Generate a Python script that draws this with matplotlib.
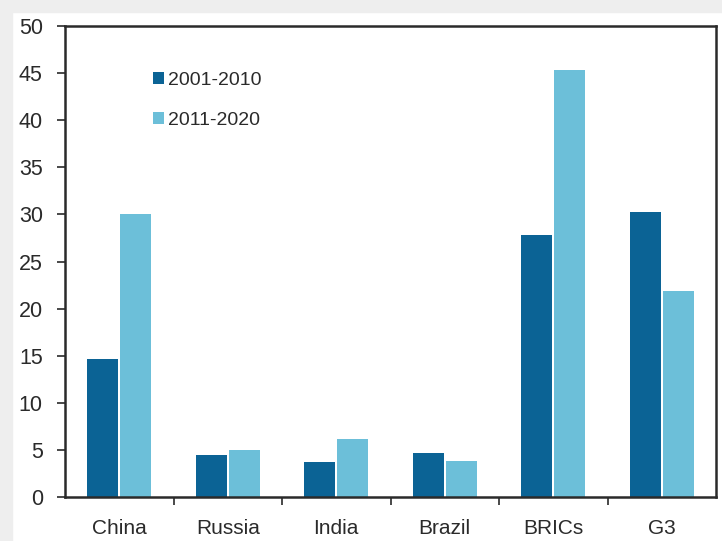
import numpy as np
import matplotlib
matplotlib.use("Agg")
from matplotlib import pyplot as plt
from matplotlib.patches import Rectangle

# Data
categories = ["China", "Russia", "India", "Brazil", "BRICs", "G3"]
decade_2001_2010 = [14.7, 4.5, 3.7, 4.7, 27.8, 30.3]
decade_2011_2020 = [30.0, 5.0, 6.2, 3.8, 45.3, 21.9]
series_labels = ["2001-2010", "2011-2020"]
y_ticks = list(range(0, 55, 5))

dark_blue = "#0b6395"
light_blue = "#6cbfd9"
text_color = "#2a2a2a"

plt.rcParams['font.family'] = ['Liberation Sans', 'DejaVu Sans']

fig = plt.figure(figsize=(7.22, 5.41), dpi=100)
fig.patch.set_facecolor("white")

# light grey frame strips on the left and top edges of the screenshot
fig.patches.append(Rectangle((0, 0), 12 / 722, 1, transform=fig.transFigure,
                             color="#eeeeee", zorder=0))
fig.patches.append(Rectangle((0, 1 - 12 / 541), 1, 12 / 541, transform=fig.transFigure,
                             color="#eeeeee", zorder=0))

ax = fig.add_axes([65 / 722, 1 - 497 / 541, (716 - 65) / 722, (497 - 26) / 541])

x = np.arange(len(categories))
width = 0.285
ax.bar(x - width / 2 - 0.01, decade_2001_2010, width, color=dark_blue, label=series_labels[0])
ax.bar(x + width / 2 + 0.01, decade_2011_2020, width, color=light_blue, label=series_labels[1])

ax.set_xlim(-0.5, len(categories) - 0.5)
ax.set_ylim(0, 50)
ax.set_yticks(y_ticks)
ax.tick_params(axis='y', labelsize=15.5, length=6, width=1.2, direction='out', pad=10,
               colors=text_color)

# category labels centred, tick marks at group boundaries
ax.set_xticks(x)
ax.set_xticklabels(categories)
ax.set_xticks(np.arange(0.5, len(categories) - 0.5), minor=True)
ax.tick_params(axis='x', which='major', length=0, labelsize=15, pad=16, colors=text_color)
ax.tick_params(axis='x', which='minor', length=6, width=1.2, direction='out',
               colors=text_color)

for spine in ax.spines.values():
    spine.set_linewidth(1.8)
    spine.set_color(text_color)

leg = ax.legend(loc='upper left', bbox_to_anchor=(0.108, 0.94), frameon=False,
                fontsize=14, handlelength=0.6, handleheight=0.6, handletextpad=0.2,
                labelspacing=1.2)
for t in leg.get_texts():
    t.set_color(text_color)

fig.savefig("out.png", dpi=100, facecolor=fig.get_facecolor())
